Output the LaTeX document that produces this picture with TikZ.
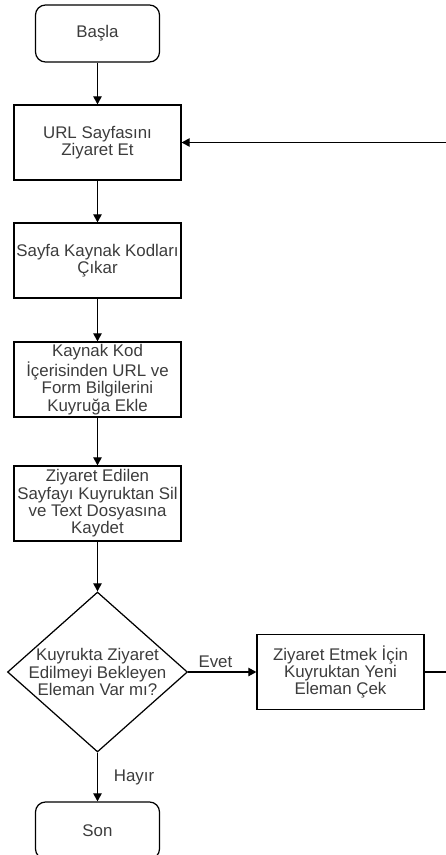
\documentclass[tikz,border=0pt]{standalone}
\usepackage{fontspec}
\setmainfont{Liberation Sans}
\usetikzlibrary{shapes.geometric,arrows.meta}

\definecolor{metin}{RGB}{60,60,60}

\tikzset{
  kutu/.style={draw, line width=0.7pt, minimum width=3.34cm, minimum height=1.5cm,
    align=center, text=metin, font=\fontsize{9.6}{9.9}\selectfont, inner sep=1pt},
  uckutu/.style={kutu, rounded corners=0.2cm, minimum width=2.48cm, minimum height=1.14cm},
  yazi/.style={align=center, text=metin, font=\fontsize{9.6}{9.9}\selectfont, inner sep=1pt},
  ok/.style={line width=0.7pt, -{Triangle[length=4.6pt,width=4.8pt]}}
}

\begin{document}
\begin{tikzpicture}[x=0.02cm,y=-0.02cm]
        % Page frame
        \useasboundingbox (0,0) rectangle (446,855);
        % Main column
        \node[uckutu] (basla) at (97.5,33.5) {Başla};
        \node[kutu] (url) at (97.5,142.5) {URL Sayfasını\\Ziyaret Et};
        \node[kutu] (kod) at (97.5,260.5) {Sayfa Kaynak Kodları\\Çıkar};
        \node[kutu] (ekle) at (97.5,379.5) {Kaynak Kod\\İçerisinden URL ve\\Form Bilgilerini\\Kuyruğa Ekle};
        \node[kutu] (sil) at (97.5,503.5) {Ziyaret Edilen\\Sayfayı Kuyruktan Sil\\ve Text Dosyasına\\Kaydet};
        % Decision
        \node[draw, diamond, line width=0.7pt, minimum width=3.6cm, minimum height=3.2cm, inner sep=0pt] (karar) at (97.5,672) {};
        \node[yazi] (kararmetin) at (karar) {Kuyrukta Ziyaret\\Edilmeyi Bekleyen\\Eleman Var mı?};
        \node[kutu] (cek) at (340.5,672) {Ziyaret Etmek İçin\\Kuyruktan Yeni\\Eleman Çek};
        \node[uckutu] (son) at (97.5,830.5) {Son};
        % Arrows
        \draw[ok] (basla) -- (url);
        \draw[ok] (url) -- (kod);
        \draw[ok] (kod) -- (ekle);
        \draw[ok] (ekle) -- (sil);
        \draw[ok] (sil) -- (karar);
        \draw[ok] (karar) -- (cek) node[yazi, pos=0.4, above=1pt] (evet) {Evet};
        \draw[ok] (karar) -- (son) node[yazi, midway, right=8pt] (hayir) {Hayır};
        % Loop back (vertical part runs past the page edge)
        \coordinate (donus1) at (449,672);
        \coordinate (donus2) at (449,142.5);
        \draw[ok] (cek) -- (donus1) -- (donus2) -- (url);
\end{tikzpicture}
\end{document}
